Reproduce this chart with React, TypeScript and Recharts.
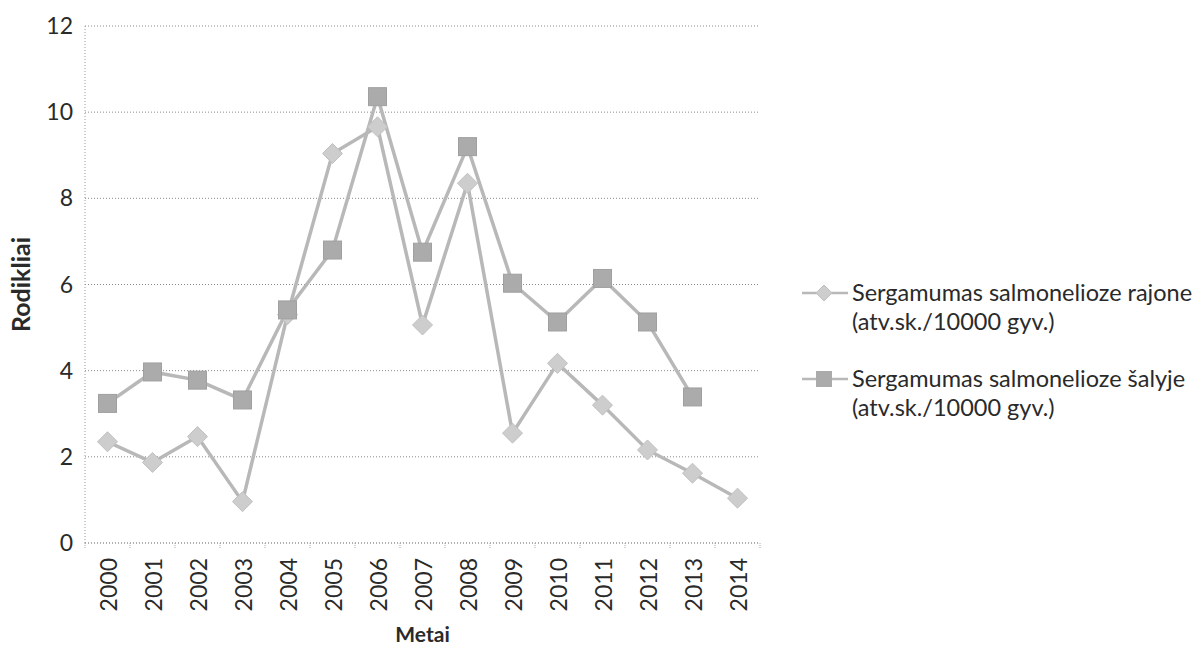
import { LineChart, Line, XAxis, YAxis, CartesianGrid } from "recharts";

const years = ["2000", "2001", "2002", "2003", "2004", "2005", "2006", "2007", "2008", "2009", "2010", "2011", "2012", "2013", "2014"];
const rajone = [2.35, 1.87, 2.47, 0.96, 5.3, 9.04, 9.66, 5.06, 8.35, 2.55, 4.17, 3.2, 2.16, 1.62, 1.04];
const salyje = [3.24, 3.97, 3.78, 3.32, 5.41, 6.8, 10.36, 6.75, 9.2, 6.03, 5.13, 6.14, 5.13, 3.39, null];
const yTicks = [0, 2, 4, 6, 8, 10, 12];

const seriesNames = [
  ["Sergamumas salmonelioze rajone", "(atv.sk./10000 gyv.)"],
  ["Sergamumas salmonelioze šalyje", "(atv.sk./10000 gyv.)"],
];

const data = years.map((y, i) => ({ year: y, rajone: rajone[i], salyje: salyje[i] }));

const FONT = "Lato, 'Open Sans', sans-serif";
const LINE = "#b8b8b8";
const DIAMOND = "#cdcdcd";
const SQUARE = "#ababab";
const TEXT = "#2a2a2a";

const PLOT_LEFT = 85;
const PLOT_RIGHT = 760;
const PLOT_TOP = 26;
const PLOT_BOTTOM = 543;
const BAND = (PLOT_RIGHT - PLOT_LEFT) / years.length;

function Diamond({ cx, cy }: any) {
  if (cx == null || cy == null) return null;
  const r = 10;
  return (
    <polygon
      points={`${cx},${cy - r} ${cx + r},${cy} ${cx},${cy + r} ${cx - r},${cy}`}
      fill={DIAMOND}
      stroke="#c0c0c0"
      strokeWidth={1}
    />
  );
}

function Square({ cx, cy }: any) {
  if (cx == null || cy == null) return null;
  const s = 9;
  return <rect x={cx - s} y={cy - s} width={2 * s} height={2 * s} fill={SQUARE} stroke="#a0a0a0" strokeWidth={1} />;
}

function XTick({ x, y, payload, index }: any) {
  const last = index === years.length - 1;
  return (
    <g>
      <line x1={x - BAND / 2} x2={x - BAND / 2} y1={y} y2={y + 6} stroke="#aaa" strokeDasharray="1 1" />
      {last && <line x1={x + BAND / 2} x2={x + BAND / 2} y1={y} y2={y + 6} stroke="#aaa" strokeDasharray="1 1" />}
      <text
        transform={`translate(${x},${y + 15}) rotate(-90)`}
        textAnchor="end"
        dominantBaseline="central"
        fontFamily={FONT}
        fontSize={23}
        fill={TEXT}
      >
        {payload.value}
      </text>
    </g>
  );
}

function LegendBox() {
  return (
    <div
      style={{
        position: "absolute",
        left: 800,
        top: 278,
        width: 400,
        fontFamily: FONT,
        fontSize: 23.5,
        color: TEXT,
        lineHeight: "29px",
      }}
    >
      {seriesNames.map((n, i) => (
        <div key={i} style={{ display: "flex", alignItems: "flex-start", marginBottom: i === 0 ? 28 : 0 }}>
          <svg width={52} height={29} style={{ flex: "none" }}>
            <line x1={2} x2={48} y1={15} y2={15} stroke={LINE} strokeWidth={2.5} />
            {i === 0 ? (
              <polygon points="24,7 32,15 24,23 16,15" fill={DIAMOND} stroke="#c0c0c0" />
            ) : (
              <rect x={16} y={7} width={16} height={16} fill={SQUARE} />
            )}
          </svg>
          <div>
            <div>{n[0]}</div>
            <div>{n[1]}</div>
          </div>
        </div>
      ))}
    </div>
  );
}

export default function App() {
  return (
    <div style={{ position: "absolute", left: 0, top: 0, width: 1199, height: 649, background: "#fff" }}>
      <LineChart
        width={1199}
        height={649}
        data={data}
        margin={{ top: PLOT_TOP, right: 1199 - PLOT_RIGHT, bottom: 0, left: 0 }}
      >
        <CartesianGrid vertical={false} stroke="#8a8a8a" strokeDasharray="1 2" />
        <XAxis
          dataKey="year"
          height={649 - PLOT_BOTTOM}
          interval={0}
          padding={{ left: BAND / 2, right: BAND / 2 }}
          tickLine={false}
          tickSize={0}
          tickMargin={0}
          axisLine={{ stroke: "#999", strokeDasharray: "1 2" }}
          tick={<XTick />}
          label={() => (
            <text
              x={(PLOT_LEFT + PLOT_RIGHT) / 2}
              y={642}
              textAnchor="middle"
              fontFamily={FONT}
              fontWeight="bold"
              fontSize={21}
              fill={TEXT}
            >
              Metai
            </text>
          )}
        />
        <YAxis
          width={PLOT_LEFT}
          domain={[0, 12]}
          ticks={yTicks}
          tickLine={false}
          tickSize={0}
          tickMargin={12}
          axisLine={{ stroke: "#999", strokeDasharray: "1 2" }}
          tick={{ fontFamily: FONT, fontSize: 23, fill: TEXT }}
          label={() => (
            <text
              transform={`translate(20,${(PLOT_TOP + PLOT_BOTTOM) / 2}) rotate(-90)`}
              textAnchor="middle"
              dominantBaseline="central"
              fontFamily={FONT}
              fontWeight="bold"
              fontSize={25}
              fill={TEXT}
            >
              Rodikliai
            </text>
          )}
        />
        <Line
          dataKey="rajone"
          stroke={LINE}
          strokeWidth={3.5}
          dot={<Diamond />}
          activeDot={false}
          isAnimationActive={false}
        />
        <Line
          dataKey="salyje"
          stroke={LINE}
          strokeWidth={3.5}
          dot={<Square />}
          activeDot={false}
          isAnimationActive={false}
        />
      </LineChart>
      <LegendBox />
    </div>
  );
}
